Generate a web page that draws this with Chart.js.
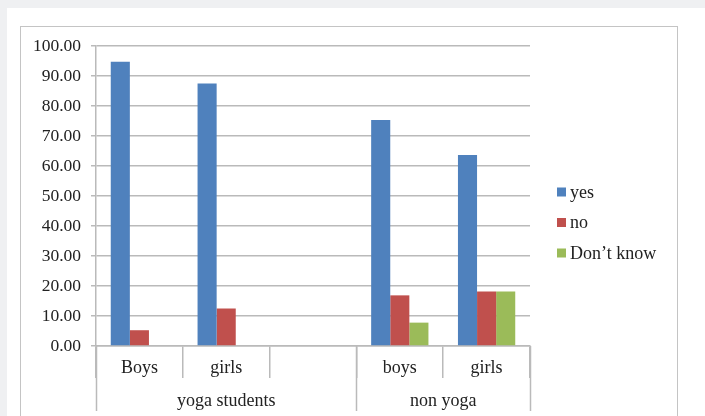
<!DOCTYPE html>
<html>
<head>
    <title>Yoga survey chart</title>
    <script src="https://cdn.jsdelivr.net/npm/chart.js"></script>
    <style>
        html, body { margin: 0; padding: 0; }
        body { width: 705px; height: 416px; background: #eff0f2; position: relative; overflow: hidden; }
        #panel { position: absolute; left: 7px; top: 8px; right: 0; bottom: 0; background: #fff; }
        #frame { position: absolute; left: 20px; top: 26px; width: 656px; height: 420px; border: 1.5px solid #c4c4c4; }
        #wrap { position: absolute; left: 0; top: 0; width: 705px; height: 416px; }
    </style>
</head>
<body>
    <div id="panel"></div>
    <div id="frame"></div>
    <div id="wrap"><canvas id="chart"></canvas></div>

    <script>
        // categories + groups
        const categories = ['Boys', 'girls', '', 'boys', 'girls'];
        const groups = ['yoga students', 'non yoga'];
        const groupSpans = [3, 2]; // how many categories per group

        // series values (percent)
        const yesValues = [94.74, 87.50, null, 75.32, 63.64];
        const noValues = [5.26, 12.50, null, 16.88, 18.18];
        const dontKnowValues = [null, null, null, 7.79, 18.18];

        const yTicks = [0, 10, 20, 30, 40, 50, 60, 70, 80, 90, 100];

        const FONT = 'Liberation Serif, Times New Roman, serif';
        const TEXT = '#222222';
        const LINE = '#bababa';

        // table lines under the x axis, group labels and legend
        const tablePlugin = {
            id: 'tablePlugin',
            afterDraw(chart) {
                const ctx = chart.ctx;
                const x = chart.scales.x;
                const area = chart.chartArea;
                ctx.save();
                ctx.strokeStyle = LINE;
                ctx.lineWidth = 1.5;
                // long lines at group boundaries
                let idx = 0;
                const bounds = [0];
                groupSpans.forEach(n => { idx += n; bounds.push(idx); });
                bounds.forEach(b => {
                    const px = Math.round(x.getPixelForValue(b - 0.5)) + 0.5;
                    ctx.beginPath();
                    ctx.moveTo(px, area.bottom);
                    ctx.lineTo(px, 411);
                    ctx.stroke();
                });
                // group labels
                ctx.fillStyle = TEXT;
                ctx.font = '18px ' + FONT;
                ctx.textAlign = 'center';
                ctx.textBaseline = 'middle';
                groups.forEach((g, i) => {
                    const a = x.getPixelForValue(bounds[i] - 0.5);
                    const b = x.getPixelForValue(bounds[i + 1] - 0.5);
                    ctx.fillText(g, (a + b) / 2, 401);
                });
                // legend
                const legendY = [192, 222.5, 253];
                ctx.textAlign = 'left';
                chart.data.datasets.forEach((ds, i) => {
                    ctx.fillStyle = ds.backgroundColor;
                    ctx.fillRect(557, legendY[i] - 4.5, 9, 9);
                    ctx.fillStyle = TEXT;
                    ctx.fillText(ds.label, 570, legendY[i] + 1);
                });
                ctx.restore();
            }
        };

        const ctx = document.getElementById('chart').getContext('2d');
        const chart = new Chart(ctx, {
            type: 'bar',
            data: {
                labels: categories,
                datasets: [
                    { label: 'yes', data: yesValues, backgroundColor: '#4f81bd' },
                    { label: 'no', data: noValues, backgroundColor: '#c0504d' },
                    { label: 'Don\u2019t know', data: dontKnowValues, backgroundColor: '#9bbb59' }
                ]
            },
            options: {
                responsive: true,
                maintainAspectRatio: false,
                animation: false,
                categoryPercentage: 0.66,
                barPercentage: 1,
                layout: { padding: { left: 0, top: 46, right: 175, bottom: 0 } },
                plugins: {
                    legend: { display: false },
                    tooltip: { enabled: false }
                },
                scales: {
                    x: {
                        grid: { offset: true, drawOnChartArea: false, tickLength: 32, color: LINE, lineWidth: 1.5 },
                        border: { color: LINE, width: 1.5 },
                        ticks: { color: TEXT, font: { family: FONT, size: 18 }, padding: -21, maxRotation: 0, autoSkip: false },
                        afterFit(s) { s.height = 70; }
                    },
                    y: {
                        min: 0,
                        max: 100,
                        afterBuildTicks(s) { s.ticks = yTicks.map(v => ({ value: v })); },
                        grid: { color: LINE, lineWidth: 1.5, tickLength: 5 },
                        border: { color: LINE, width: 1.5 },
                        ticks: {
                            color: TEXT,
                            padding: 10,
                            font: { family: FONT, size: 17.5 },
                            callback: v => Number(v).toFixed(2)
                        },
                        afterFit(s) { s.width = 96; }
                    }
                }
            },
            plugins: [tablePlugin]
        });
    </script>
</body>
</html>
